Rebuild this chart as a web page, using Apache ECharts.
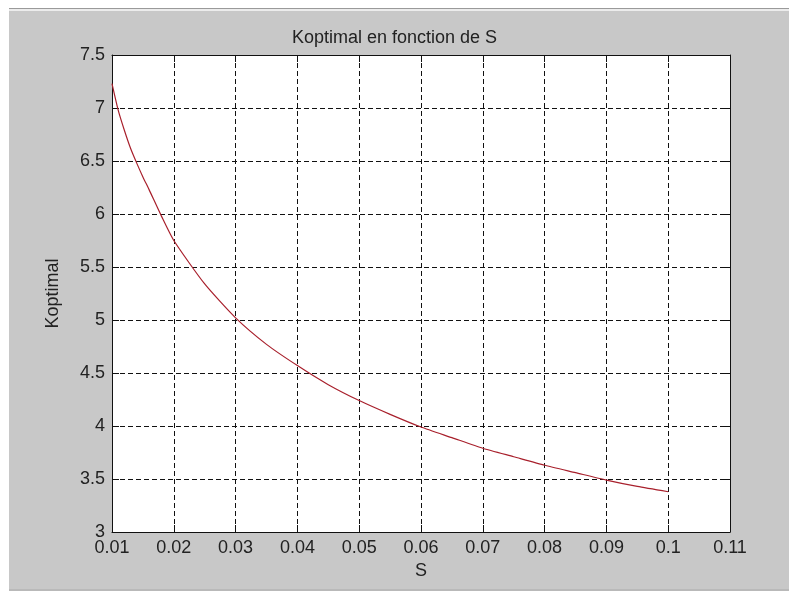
<!DOCTYPE html>
<html>
<head>
<meta charset="utf-8">
<script src="https://cdn.jsdelivr.net/npm/echarts@6/dist/echarts.min.js"></script>
<style>
  html, body { margin: 0; padding: 0; background: #ffffff; width: 789px; height: 594px; overflow: hidden; }
  #frame { position: absolute; left: 9px; top: 8px; width: 780px; height: 583px; background: #c8c8c8; border-top: 1px solid #9a9a9a; box-sizing: border-box; }
  #frame .hl { position: absolute; left: 0; top: 0; right: 0; height: 2px; background: #ececec; }
  #frame .bl { position: absolute; left: 0; bottom: 0; right: 0; height: 2px; background: #b9b9b9; }
  #chart { position: absolute; left: 0; top: 0; width: 789px; height: 594px; }
</style>
</head>
<body>
<div id="frame"><div class="hl"></div><div class="bl"></div></div>
<div id="chart"></div>
<script>
// Data
const S = [0.010, 0.011, 0.012, 0.013, 0.014, 0.015, 0.016, 0.018, 0.020, 0.025, 0.030, 0.035, 0.040, 0.045, 0.050, 0.055, 0.060, 0.065, 0.070, 0.075, 0.080, 0.085, 0.090, 0.095, 0.100];
const Koptimal = [7.23, 6.98, 6.79, 6.62, 6.48, 6.35, 6.23, 5.98, 5.75, 5.34, 5.02, 4.77, 4.57, 4.39, 4.24, 4.11, 3.99, 3.89, 3.79, 3.71, 3.63, 3.56, 3.49, 3.43, 3.38];
const xTicks = { min: 0.01, max: 0.11, interval: 0.01 };
const yTicks = { min: 3, max: 7.5, interval: 0.5 };
const titleText = 'Koptimal en fonction de S';
const xName = 'S';
const yName = 'Koptimal';

const FONT = '"Liberation Sans", Arial, Helvetica, sans-serif';
const TXT = '#222222';
const FS = 18;
const chart = echarts.init(document.getElementById('chart'), null, { renderer: 'canvas' });

const tickStyle = { show: true, inside: true, length: 7, lineStyle: { color: '#111', width: 1 } };
const lineStyle = { show: true, lineStyle: { color: '#111', width: 1 } };
const gridDash = { show: true, lineStyle: { color: '#111', width: 1, type: [5, 3] } };

chart.setOption({
  backgroundColor: 'transparent',
  animation: false,
  title: {
    text: titleText, left: 'center', top: 24,
    textStyle: { fontFamily: FONT, fontSize: FS, fontWeight: 'normal', color: TXT }
  },
  grid: { left: 112, right: 59, top: 55, bottom: 62, show: true, backgroundColor: '#ffffff', borderWidth: 0 },
  xAxis: [
    {
      type: 'value', position: 'bottom', min: xTicks.min, max: xTicks.max, interval: xTicks.interval,
      name: xName, nameLocation: 'middle', nameGap: 30,
      nameTextStyle: { fontFamily: FONT, fontSize: FS, color: TXT },
      axisLine: lineStyle, axisTick: tickStyle, splitLine: gridDash,
      axisLabel: { fontFamily: FONT, fontSize: FS, color: TXT, margin: 7, formatter: v => String(+v.toFixed(2)) }
    },
    {
      type: 'value', position: 'top', min: xTicks.min, max: xTicks.max, interval: xTicks.interval,
      axisLine: lineStyle, axisTick: tickStyle, splitLine: { show: false }, axisLabel: { show: false }
    }
  ],
  yAxis: [
    {
      type: 'value', position: 'left', min: yTicks.min, max: yTicks.max, interval: yTicks.interval,
      name: yName, nameLocation: 'middle', nameGap: 50,
      nameTextStyle: { fontFamily: FONT, fontSize: FS, color: TXT },
      axisLine: lineStyle, axisTick: tickStyle, splitLine: gridDash,
      axisLabel: { fontFamily: FONT, fontSize: FS, color: TXT, margin: 7, formatter: v => String(+v.toFixed(1)) }
    },
    {
      type: 'value', position: 'right', min: yTicks.min, max: yTicks.max, interval: yTicks.interval,
      axisLine: lineStyle, axisTick: tickStyle, splitLine: { show: false }, axisLabel: { show: false }
    }
  ],
  series: [{
    type: 'line', xAxisIndex: 0, yAxisIndex: 0,
    data: S.map((s, i) => [s, Koptimal[i]]),
    smooth: 0.2, showSymbol: false, symbol: 'none',
    lineStyle: { color: '#a8202c', width: 1.2 },
    z: 5
  }]
});
</script>
</body>
</html>
